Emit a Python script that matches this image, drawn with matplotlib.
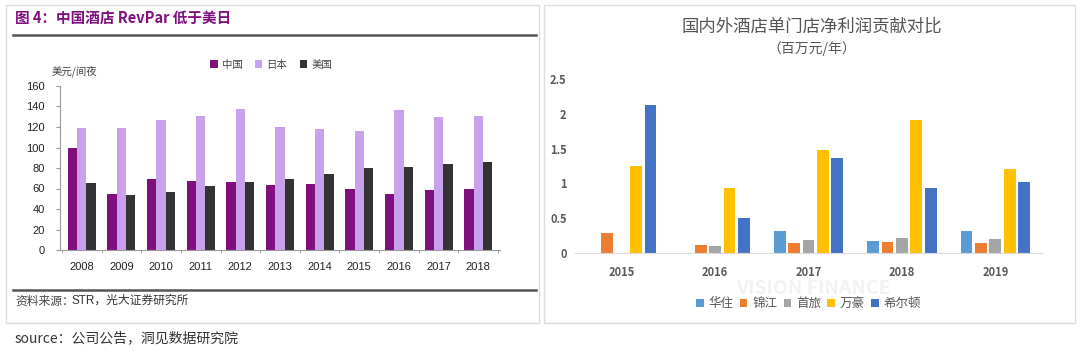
import numpy as np
import matplotlib
matplotlib.use("Agg")
import matplotlib.pyplot as plt
from matplotlib.patches import Rectangle
from matplotlib.lines import Line2D

plt.rcParams['font.family'] = ['Noto Sans CJK SC', 'DejaVu Sans']

# left chart: RevPar, USD per room-night
years_l = ["2008", "2009", "2010", "2011", "2012", "2013", "2014", "2015", "2016", "2017", "2018"]
china = [100, 55, 69, 67, 66, 63, 64, 60, 55, 59, 60]
japan = [119, 119, 127, 131, 138, 120, 118, 116, 137, 130, 131]
usa = [65, 54, 57, 62, 66, 69, 74, 80, 81, 84, 86]
left_series = ["中国", "日本", "美国"]
left_yticks = [0, 20, 40, 60, 80, 100, 120, 140, 160]

# right chart: net profit per store, million yuan / year
years_r = ["2015", "2016", "2017", "2018", "2019"]
huazhu = [0, 0, 0.32, 0.17, 0.31]
jinjiang = [0.29, 0.12, 0.15, 0.16, 0.15]
shoulv = [0, 0.10, 0.18, 0.22, 0.20]
marriott = [1.25, 0.94, 1.48, 1.91, 1.21]
hilton = [2.13, 0.51, 1.37, 0.94, 1.02]
right_series = ["华住", "锦江", "首旅", "万豪", "希尔顿"]
right_yticks = [0, 0.5, 1, 1.5, 2, 2.5]
right_ylabels = ["0", "0.5", "1", "1.5", "2", "2.5"]

W, H = 1080, 351
fig = plt.figure(figsize=(10.8, 3.51), dpi=100)


def fx(px):
    return px / W


def fy(py):
    return 1 - py / H


# panel frames
for x0, x1 in [(6, 539), (544, 1075)]:
    fig.patches.append(Rectangle((fx(x0), fy(323)), fx(x1 - x0), (323 - 5) / H,
                                 transform=fig.transFigure, fill=False,
                                 edgecolor="#dddddd", lw=1.0))

# ---------------- left panel ----------------
purple = "#7f0f7e"
fig.text(fx(15), fy(18), "图 4：中国酒店 RevPar 低于美日", color=purple,
         fontsize=10.5, fontweight="bold", va="center", ha="left")
fig.add_artist(Line2D([fx(13), fx(536)], [fy(35), fy(35)], color="#555555", lw=1.8))
fig.add_artist(Line2D([fx(13), fx(536)], [fy(290), fy(290)], color="#555555", lw=1.8))
fig.text(fx(15), fy(301), "资料来源：", fontsize=8.5, color="#444444", va="center")
fig.text(fx(72), fy(301), "STR，光大证券研究所", fontsize=8.5, color="#333333", va="center",
         family=["Liberation Sans", "Noto Sans CJK SC"])
fig.text(fx(52), fy(71), "美元/间夜", fontsize=7.5, color="#444444", va="center")

axl = fig.add_axes([fx(60), fy(250), fx(500 - 60), (250 - 86) / H])
x = np.arange(len(years_l))
bw = 0.235
cols_l = [purple, "#c9a0ec", "#333333"]
for i, (vals, lab) in enumerate(zip([china, japan, usa], left_series)):
    axl.bar(x + (i - 1) * bw, vals, bw, color=cols_l[i], label=lab)
axl.set_xlim(-0.55, len(years_l) - 0.45)
axl.set_ylim(0, 160)
axl.set_yticks(left_yticks)
axl.set_xticks(x)
axl.set_xticklabels(years_l)
axl.set_xticks(np.arange(len(years_l) + 1) - 0.5, minor=True)
for s in ["top", "right"]:
    axl.spines[s].set_visible(False)
for s in ["left", "bottom"]:
    axl.spines[s].set_color("#999999")
    axl.spines[s].set_linewidth(0.8)
axl.tick_params(axis="y", length=3, color="#999999", labelsize=8, pad=8)
axl.tick_params(axis="x", which="major", length=0, labelsize=8, pad=9)
axl.tick_params(axis="x", which="minor", length=2.5, color="#999999")
for t in axl.get_xticklabels() + axl.get_yticklabels():
    t.set_family(["Liberation Sans", "DejaVu Sans"])
    t.set_color("#222222")
axl.legend(loc="center", bbox_to_anchor=(0.48, 1.13), ncol=3, frameon=False,
           fontsize=7.5, handlelength=0.7, handleheight=0.7, columnspacing=1.2,
           handletextpad=0.4, labelcolor="#444444")

# ---------------- right panel ----------------
fig.text(fx(812), fy(27), "国内外酒店单门店净利润贡献对比", fontsize=12.5,
         color="#555555", ha="center", va="center")
fig.text(fx(812), fy(49), "（百万元/年）", fontsize=10, color="#555555",
         ha="center", va="center")
# faint watermark
fig.text(fx(813), fy(288), "VISION FINANCE", fontsize=14, color="#f2f2f2",
         ha="center", va="center", fontweight="bold", zorder=0)

axr = fig.add_axes([fx(575), fy(253), fx(1042 - 575), (253 - 79) / H])
axr.patch.set_alpha(0)
xr = np.arange(len(years_r))
step = 0.154
bwr = 0.125
cols_r = ["#5b9bd5", "#ed7d31", "#a5a5a5", "#ffc000", "#4472c4"]
for i, (vals, lab) in enumerate(zip([huazhu, jinjiang, shoulv, marriott, hilton], right_series)):
    axr.bar(xr + (i - 2) * step, vals, bwr, color=cols_r[i], label=lab)
axr.set_xlim(-0.5, len(years_r) - 0.5)
axr.set_ylim(0, 2.5)
axr.set_yticks(right_yticks)
axr.set_yticklabels(right_ylabels)
axr.set_xticks(xr)
axr.set_xticklabels(years_r)
for s in ["top", "right", "left"]:
    axr.spines[s].set_visible(False)
axr.spines["bottom"].set_color("#d9d9d9")
axr.tick_params(axis="y", length=0, labelsize=8, pad=6, labelcolor="#595959")
axr.tick_params(axis="x", length=0, labelsize=8, pad=9, labelcolor="#595959")
for t in axr.get_xticklabels() + axr.get_yticklabels():
    t.set_fontweight("bold")
axr.legend(loc="center", bbox_to_anchor=(0.5, -0.29), ncol=5, frameon=False,
           fontsize=9, handlelength=0.6, handleheight=0.6, columnspacing=0.5,
           handletextpad=0.4, labelcolor="#595959")

fig.text(fx(15), fy(338), "source：公司公告，洞见数据研究院", fontsize=10,
         color="#333333", va="center")

fig.savefig("out.png", dpi=100)
